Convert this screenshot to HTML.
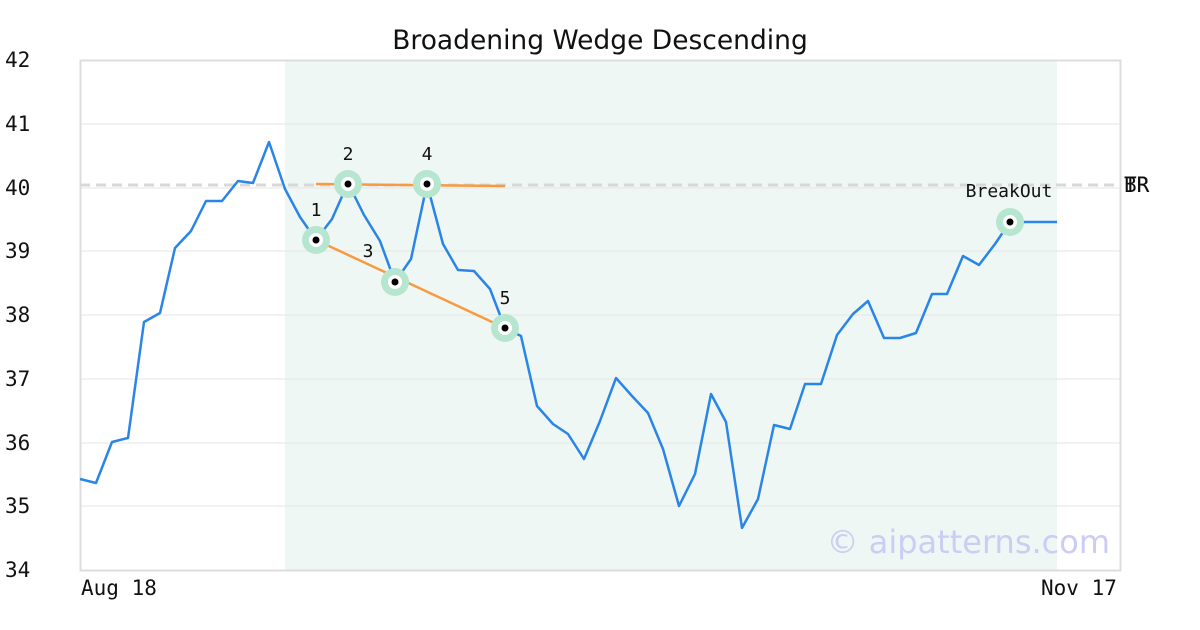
<!DOCTYPE html>
<html><head><style>body{margin:0;background:#fff}svg{display:block}</style></head><body>
<svg width="1200" height="630" xmlns="http://www.w3.org/2000/svg" font-family="DejaVu Sans, Liberation Sans, sans-serif">
<rect width="1200" height="630" fill="#fff"/>
<rect x="285" y="60" width="772" height="510" fill="#eef7f3"/>
<g stroke="#e6e6e6" stroke-width="1">
<line x1="80" y1="124" x2="1120" y2="124"/><line x1="80" y1="188" x2="1120" y2="188"/>
<line x1="80" y1="251" x2="1120" y2="251"/><line x1="80" y1="315" x2="1120" y2="315"/>
<line x1="80" y1="379" x2="1120" y2="379"/><line x1="80" y1="443" x2="1120" y2="443"/>
<line x1="80" y1="506" x2="1120" y2="506"/></g>
<rect x="80.5" y="60.5" width="1040" height="510" fill="none" stroke="#ddd" stroke-width="2"/>
<line x1="80" y1="185" x2="1120" y2="185" stroke="#d8d8d8" stroke-width="3" stroke-dasharray="10,6"/>
<text x="600" y="49" font-size="26.5" text-anchor="middle" fill="#111">Broadening Wedge Descending</text>
<g font-size="21" fill="#111" font-family="DejaVu Sans Mono, Liberation Mono, monospace">
<text x="5" y="67">42</text><text x="5" y="131">41</text><text x="5" y="195">40</text><text x="5" y="258">39</text>
<text x="5" y="322">38</text><text x="5" y="386">37</text><text x="5" y="450">36</text><text x="5" y="513">35</text><text x="5" y="577">34</text>
<text x="81" y="595">Aug 18</text><text x="1041" y="595">Nov 17</text>
<text x="1124" y="192">TR</text><text x="1124" y="192">BR</text>
</g>
<text x="1110" y="553" font-size="32" fill="#ccccf5" text-anchor="end">© aipatterns.com</text>
<polyline fill="none" stroke="#2a85e8" stroke-width="2.5" stroke-linejoin="round" points="80,479 96,483 112,442 128,438 144,322 160,313 175,248 191,231 206,201 222,201 238,181 253,183 269,142 285,189 300,217 316,240 332,219 348,183 364,215 380,241 395,282 411,259 427,184 443,244 458,270 474,271 490,289 505,328 521,336 537,406 553,424 568,434 584,459 600,421 616,378 632,396 648,413 663,449 679,506 695,474 711,394 726,422 742,528 758,499 774,425 790,429 805,384 821,384 837,335 853,314 868,301 884,338 900,338 916,333 932,294 947,294 963,256 979,265 995,244 1010,222 1026,222 1057,222"/>
<g stroke="#f79a40" stroke-width="2.5"><line x1="316" y1="240" x2="505" y2="328"/><line x1="316" y1="184" x2="505" y2="186"/></g>
<g fill="#b6e6cf"><circle cx="316" cy="240" r="14"/><circle cx="348" cy="184" r="14"/><circle cx="395" cy="282" r="14"/><circle cx="427" cy="184" r="14"/><circle cx="505" cy="328" r="14"/><circle cx="1010" cy="222" r="14"/></g>
<g fill="#fff"><circle cx="316" cy="240" r="7"/><circle cx="348" cy="184" r="7"/><circle cx="395" cy="282" r="7"/><circle cx="427" cy="184" r="7"/><circle cx="505" cy="328" r="7"/><circle cx="1010" cy="222" r="7"/></g>
<g fill="#000"><circle cx="316" cy="240" r="3.5"/><circle cx="348" cy="184" r="3.5"/><circle cx="395" cy="282" r="3.5"/><circle cx="427" cy="184" r="3.5"/><circle cx="505" cy="328" r="3.5"/><circle cx="1010" cy="222" r="3.5"/></g>
<g font-size="18" fill="#111" text-anchor="middle" font-family="DejaVu Sans Mono, Liberation Mono, monospace">
<text x="316" y="216">1</text><text x="348" y="160">2</text><text x="368" y="257">3</text><text x="427" y="160">4</text><text x="505" y="304">5</text><text x="1009" y="197">BreakOut</text></g>
</svg>
</body></html>
